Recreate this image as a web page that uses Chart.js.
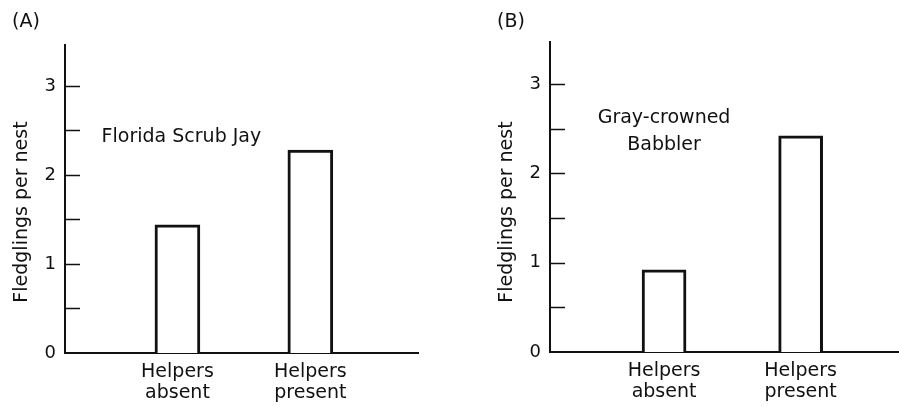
<!DOCTYPE html>
<html>
<head>
<meta charset="utf-8">
<script src="https://cdn.jsdelivr.net/npm/chart.js@4.4.1/dist/chart.umd.min.js"></script>
<style>
  html, body { margin: 0; padding: 0; background: #fff; }
  body { width: 899px; height: 407px; position: relative; overflow: hidden; }
  canvas { position: absolute; top: 0; }
  #jayChart { left: 0; }
  #babblerChart { left: 485px; }
</style>
</head>
<body>
<canvas id="jayChart" width="450" height="407"></canvas>
<canvas id="babblerChart" width="414" height="407"></canvas>
<script>
const categories = [['Helpers', 'absent'], ['Helpers', 'present']];
const categoryPositions = [1, 2];
const jayFledglings = [1.44, 2.28];
const babblerFledglings = [0.92, 2.42];
const yTickLabels = ['0', '1', '2', '3'];
const yTitle = 'Fledglings per nest';

const FONT = 'DejaVu Sans';
const INK = '#111';

// inward tick marks every 0.5, axis title, panel letter and species note
const panelDecor = {
  id: 'panelDecor',
  afterDraw(chart, args, opts) {
    const ctx = chart.ctx;
    const x = chart.scales.x;
    const y = chart.scales.y;
    ctx.save();
    ctx.strokeStyle = INK;
    ctx.lineWidth = 1.5;
    y.ticks.forEach(t => {
      if (t.value === 0) return;
      const py = Math.round(y.getPixelForValue(t.value)) + 0.5;
      ctx.beginPath();
      ctx.moveTo(y.right, py);
      ctx.lineTo(y.right + 15, py);
      ctx.stroke();
    });
    ctx.fillStyle = INK;
    ctx.textBaseline = 'middle';

    ctx.save();
    ctx.translate(22, 212);
    ctx.rotate(-Math.PI / 2);
    ctx.textAlign = 'center';
    ctx.font = `19px "${FONT}"`;
    ctx.fillText(yTitle, 0, 0);
    ctx.restore();

    ctx.textAlign = 'left';
    ctx.font = `19px "${FONT}"`;
    ctx.fillText(opts.letter, 12, 22);
    ctx.textAlign = 'center';
    ctx.font = `19px "${FONT}"`;
    opts.notes.forEach(n => {
      ctx.fillText(n.text, x.getPixelForValue(n.x), y.getPixelForValue(n.y));
    });
    ctx.restore();
  }
};

function makePanel(id, values, o) {
  return new Chart(document.getElementById(id), {
    type: 'bar',
    data: {
      datasets: [{
        data: values.map((v, i) => ({ x: categoryPositions[i], y: v })),
        backgroundColor: '#fff',
        borderColor: INK,
        borderWidth: 3,
        barThickness: o.barWidth
      }]
    },
    options: {
      responsive: false,
      animation: false,
      layout: { padding: { left: 0, top: o.top, right: o.right, bottom: 0 } },
      scales: {
        x: {
          type: 'linear',
          min: o.xMin,
          max: o.xMax,
          offset: false,
          afterFit: s => { s.height = o.xHeight; },
          afterBuildTicks: s => { s.ticks = categoryPositions.map(v => ({ value: v })); },
          grid: { display: false, drawTicks: false, offset: false },
          border: { display: true, color: INK, width: 2, dash: o.baseDash },
          ticks: {
            padding: 9,
            color: INK,
            font: { family: FONT, size: 19, lineHeight: 1.1 },
            callback: (v, i) => categories[i]
          }
        },
        y: {
          min: 0,
          max: o.yMax,
          afterFit: s => { s.width = 65; },
          grid: { display: false, drawTicks: false },
          border: { display: true, color: INK, width: 2 },
          ticks: {
            stepSize: 0.5,
            includeBounds: false,
            padding: 9,
            color: INK,
            font: { family: FONT, size: 18 },
            callback: v => Number.isInteger(v) ? yTickLabels[v] : ''
          }
        }
      },
      plugins: {
        legend: { display: false },
        tooltip: { enabled: false },
        panelDecor: { letter: o.letter, notes: o.notes }
      }
    },
    plugins: [panelDecor]
  });
}

makePanel('jayChart', jayFledglings, {
  xMin: 0.154, xMax: 2.81, yMax: 3.46,
  top: 45, right: 32, xHeight: 54, barWidth: 45,
  baseDash: [2, 2],
  letter: '(A)',
  notes: [{ text: 'Florida Scrub Jay', x: 1.03, y: 2.43 }]
});

makePanel('babblerChart', babblerFledglings, {
  xMin: 0.165, xMax: 2.72, yMax: 3.47,
  top: 42, right: 0, xHeight: 55, barWidth: 44,
  baseDash: [],
  letter: '(B)',
  notes: [
    { text: 'Gray-crowned', x: 1.0, y: 2.62 },
    { text: 'Babbler', x: 1.0, y: 2.32 }
  ]
});
</script>
</body>
</html>
